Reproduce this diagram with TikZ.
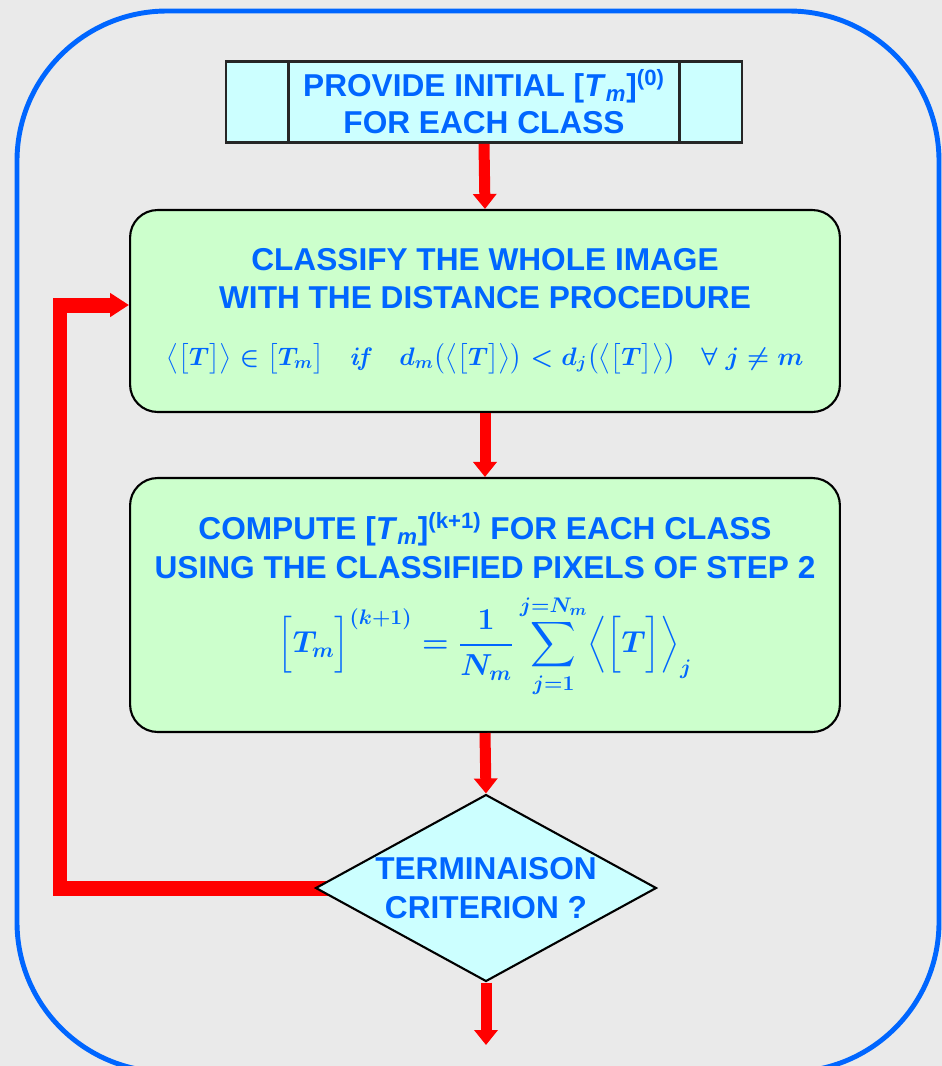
\documentclass[tikz,border=0pt]{standalone}
\usepackage{amsmath}
\usepackage{amssymb}
\usepackage[no-math]{fontspec}
\setmainfont{Liberation Sans}
\usepackage{xcolor}
\usetikzlibrary{positioning,shapes.geometric,arrows.meta,backgrounds}

\definecolor{titleblue}{RGB}{0,102,255}
\definecolor{initcyan}{RGB}{204,255,255}
\definecolor{stepgreen}{RGB}{204,255,204}
\definecolor{flowred}{RGB}{255,0,0}
\definecolor{paper}{RGB}{234,234,234}

\begin{document}
\begin{tikzpicture}[
    x=0.02cm, y=-0.02cm,
    initbox/.style={rectangle, draw=black!85, line width=1.6pt, fill=initcyan, minimum width=10.32cm, minimum height=1.62cm, align=center, text=titleblue, font=\fontsize{18}{21}\selectfont\bfseries},
    stagebox/.style={rectangle, draw=black, line width=1.2pt, fill=stepgreen, rounded corners=0.55cm, minimum width=14.2cm, align=center, text=titleblue, font=\fontsize{18}{22}\selectfont\bfseries\boldmath},
    decide/.style={diamond, draw=black, line width=1.2pt, fill=initcyan, aspect=1.82, inner sep=-6pt, minimum width=6.82cm, minimum height=3.74cm, align=center, text=titleblue, font=\fontsize{18}{22.5}\selectfont\bfseries},
    flow/.style={-{Triangle[width=0.46cm,length=0.3cm]}, line width=0.22cm, draw=flowred},
    loopback/.style={-{Triangle[width=0.46cm,length=0.38cm]}, line width=0.3cm, draw=flowred},
    frame/.style={draw=titleblue, line width=2.8pt, rounded corners=3cm}
]
    \useasboundingbox (0,0) rectangle (942,1066);
    \clip (0,0) rectangle (942,1066);
    \draw[frame] (17,11) rectangle (939,1072);

    \node[initbox] (init) at (484,102) {PROVIDE INITIAL [\textit{T}\textsubscript{\textit{m}}]\textsuperscript{(0)}\\FOR EACH CLASS};
    \draw[line width=1.6pt, draw=black!85] ([xshift=1.28cm]init.north west) -- ([xshift=1.28cm]init.south west);
    \draw[line width=1.6pt, draw=black!85] ([xshift=-1.28cm]init.north east) -- ([xshift=-1.28cm]init.south east);

    \node[stagebox, minimum height=4.04cm] (classify) at (485,311) {CLASSIFY THE WHOLE IMAGE\\WITH THE DISTANCE PROCEDURE\\[10pt]
        {\fontsize{14.5}{18}\selectfont $\bigl\langle\bigl[T\bigr]\bigr\rangle \in \bigl[T_{m}\bigr] \quad \mathit{if} \quad d_{m}\bigl(\bigl\langle\bigl[T\bigr]\bigr\rangle\bigr) < d_{j}\bigl(\bigl\langle\bigl[T\bigr]\bigr\rangle\bigr) \quad \forall\; j \neq m$}};

    \node[stagebox, minimum height=5.08cm] (compute) at (485,605) {COMPUTE [\textit{T}\textsubscript{\textit{m}}]\textsuperscript{(k+1)} FOR EACH CLASS\\USING THE CLASSIFIED PIXELS OF STEP 2\\[8pt]
        $\displaystyle \Bigl[T_{m}\Bigr]^{(k+1)} = \frac{1}{N_{m}} \sum_{j=1}^{j=N_{m}} \Bigl\langle\Bigl[T\Bigr]\Bigr\rangle_{j}$};

    \node[decide] (term) at (486,888) {TERMINAISON\\CRITERION ?};

    \coordinate (back) at (60,305);
    \coordinate (exit) at (486,1045);

    \begin{scope}[on background layer]
        \fill[paper] (0,0) rectangle (942,1066);
        \draw[loopback] (term.center) -| (back) -- (back -| classify.west);
    \end{scope}
    \draw[flow] (init.south) -- (classify.north);
    \draw[flow] (classify.south) -- (compute.north);
    \draw[flow] (compute.south) -- (term.north);
    \draw[flow] (term.south) -- (exit);
\end{tikzpicture}
\end{document}
